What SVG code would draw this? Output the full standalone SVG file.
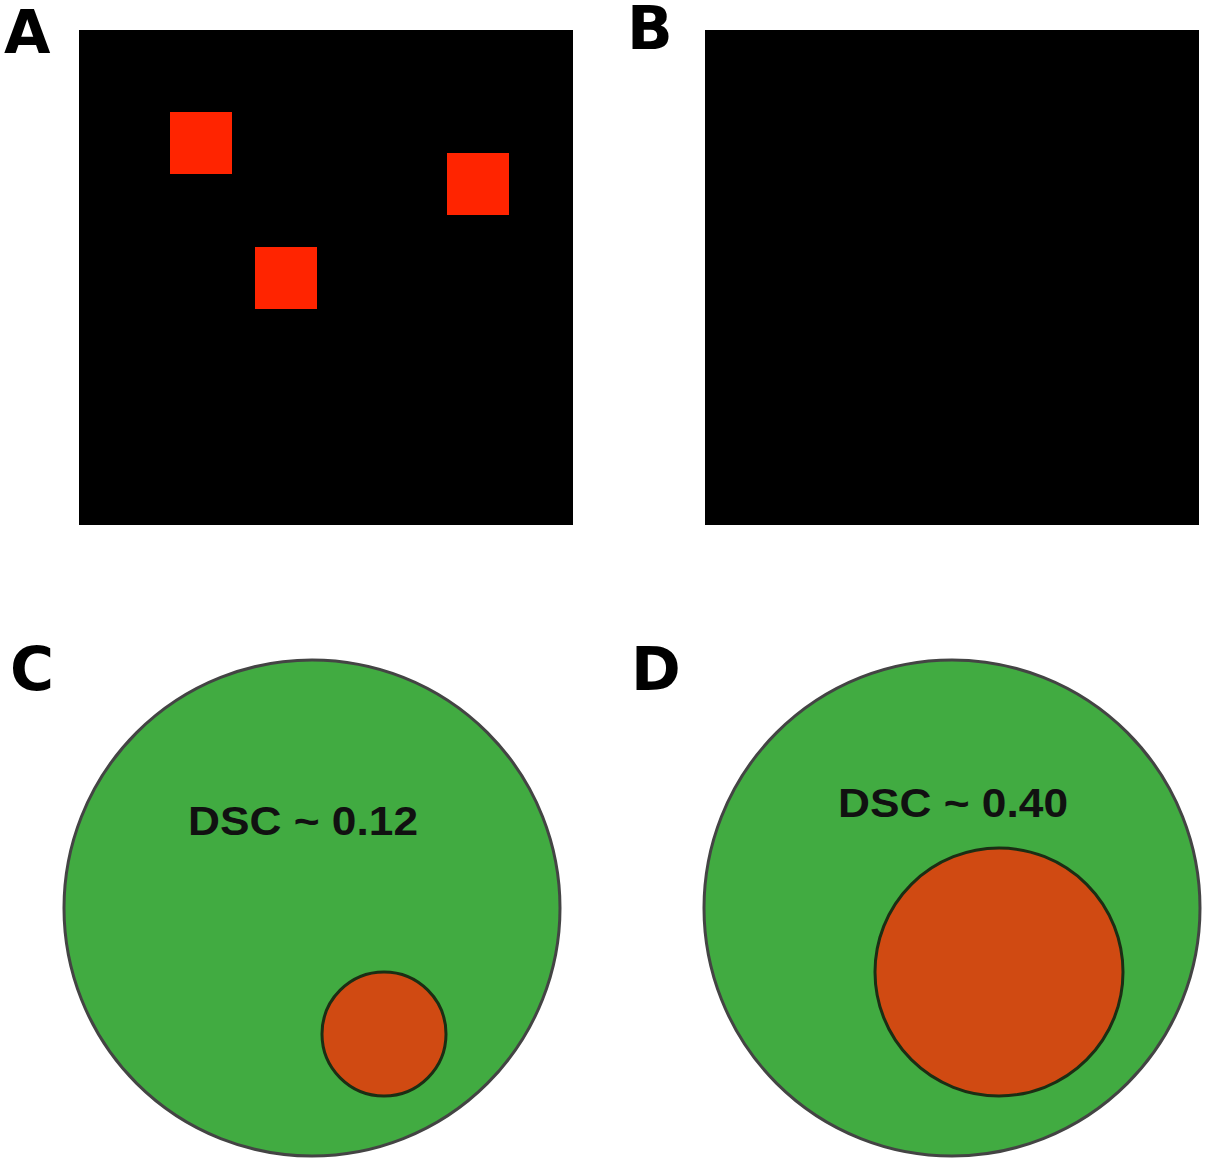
<svg xmlns="http://www.w3.org/2000/svg" width="1206" height="1164" viewBox="0 0 1206 1164">
<style>
.lbl{font-family:"DejaVu Sans",sans-serif;font-weight:bold;font-size:60px;fill:#000}
.dsc{font-family:"Liberation Sans",Arial,sans-serif;font-weight:bold;font-size:38px;fill:#111}
.sq{fill:#ff2400}
.big{fill:#41ab41;stroke:#444;stroke-width:3}
.small{fill:#d04a12;stroke:#1b2e14;stroke-width:3}
</style>
<rect width="1206" height="1164" fill="#fff"/>
<g id="panelA">
<text class="lbl" x="4" y="53">A</text>
<rect x="79" y="30" width="494" height="495" fill="#000"/>
<rect class="sq" x="170" y="112" width="62" height="62"/>
<rect class="sq" x="255" y="247" width="62" height="62"/>
<rect class="sq" x="447" y="153" width="62" height="62"/>
</g>
<g id="panelB">
<text class="lbl" x="627" y="49">B</text>
<rect x="705" y="30" width="494" height="495" fill="#000"/>
</g>
<g id="panelC">
<text class="lbl" x="10" y="690">C</text>
<circle class="big" cx="312" cy="908" r="248"/>
<circle class="small" cx="384" cy="1034" r="62"/>
<text class="dsc" x="188" y="835" textLength="230" lengthAdjust="spacingAndGlyphs" transform="translate(0,835) scale(1,1.05) translate(0,-835)">DSC ~ 0.12</text>
</g>
<g id="panelD">
<text class="lbl" x="631" y="690">D</text>
<circle class="big" cx="952" cy="908" r="248"/>
<circle class="small" cx="999" cy="972" r="124"/>
<text class="dsc" x="838" y="817" textLength="230" lengthAdjust="spacingAndGlyphs" transform="translate(0,817) scale(1,1.05) translate(0,-817)">DSC ~ 0.40</text>
</g>
<g id="connectors"/>
</svg>
